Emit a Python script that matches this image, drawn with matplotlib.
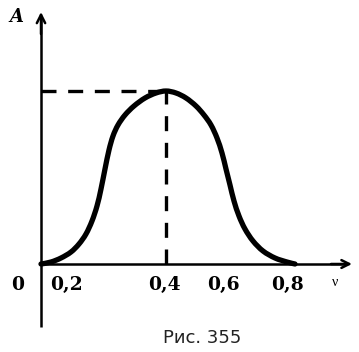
import matplotlib
matplotlib.use("Agg")
import matplotlib.pyplot as plt
from matplotlib.path import Path
from matplotlib.patches import PathPatch

# ---------------- Data (schematic units) ----------------
curve_x = [0, 10, 20, 30, 38, 45, 51, 56, 60, 64, 68, 72, 77, 84, 93, 104, 115, 125,
           135, 145, 155, 163, 170, 176, 181, 185, 189, 193, 198, 204, 212, 222, 234, 246, 254]
curve_y = [0, 2, 6, 12, 20, 30, 43, 58, 75, 95, 114, 128, 139, 149, 158, 166, 171, 173,
           171, 166, 158, 149, 139, 126, 111, 95, 79, 63, 48, 35, 23, 13, 6, 2, 0]

peak_x = 125
peak_y = 173

tick_labels = ["0,2", "0,4", "0,6", "0,8"]
tick_pos = [25, 123, 182, 246]


def smooth_path(xs, ys):
    """Catmull-Rom through the read points, drawn as cubic Bezier segments"""
    pts = list(zip(xs, ys))
    verts = [pts[0]]
    codes = [Path.MOVETO]
    for i in range(len(pts) - 1):
        p0 = pts[i - 1] if i > 0 else pts[i]
        p1 = pts[i]
        p2 = pts[i + 1]
        p3 = pts[i + 2] if i + 2 < len(pts) else pts[i + 1]
        c1 = (p1[0] + (p2[0] - p0[0]) / 6, p1[1] + (p2[1] - p0[1]) / 6)
        c2 = (p2[0] - (p3[0] - p1[0]) / 6, p2[1] - (p3[1] - p1[1]) / 6)
        verts += [c1, c2, p2]
        codes += [Path.CURVE4] * 3
    return Path(verts, codes)


# ---------------- Figure ----------------
fig = plt.figure(figsize=(3.59, 3.52), dpi=100)
ax = fig.add_axes([0, 0, 1, 1])
ax.set_xlim(-41, 318)
ax.set_ylim(-88, 264)
ax.axis("off")

# axes with open arrow heads
ax.plot([0, 0], [-63, 245], color="black", lw=1.8, solid_capstyle="butt")
ax.plot([0, 305], [0, 0], color="black", lw=1.8, solid_capstyle="butt")
ax.annotate("", xy=(0, 252), xytext=(0, 230),
            arrowprops=dict(arrowstyle="->", lw=1.8, color="black",
                            mutation_scale=15, shrinkA=0, shrinkB=0))
ax.annotate("", xy=(311, 0), xytext=(290, 0),
            arrowprops=dict(arrowstyle="->", lw=1.8, color="black",
                            mutation_scale=14, shrinkA=0, shrinkB=0))

# dashed guides to the maximum
ax.plot([0, peak_x], [peak_y, peak_y], color="black", lw=2.4,
        dashes=(4.5, 3.5), dash_capstyle="butt")
ax.plot([peak_x, peak_x], [0, peak_y], color="black", lw=2.4,
        dashes=(4.5, 3.5), dash_capstyle="butt")

# the curve
ax.add_patch(PathPatch(smooth_path(curve_x, curve_y), facecolor="none",
                       edgecolor="black", lw=3.8, capstyle="round",
                       joinstyle="round"))

# labels
serif = "DejaVu Serif"
for p, lab in zip(tick_pos, tick_labels):
    ax.text(p, -20.5, lab, ha="center", va="center", fontsize=13.5,
            fontweight="bold", family=serif)
ax.text(-23.5, -20.5, "0", ha="center", va="center", fontsize=13.5,
        fontweight="bold", family=serif)
ax.text(294, -19, "ν", ha="center", va="center", fontsize=10,
        family="Liberation Serif")
ax.text(-25, 247, "A", ha="center", va="center", fontsize=13,
        fontweight="bold", fontstyle="italic", family=serif)
ax.text(161, -74, "Рис. 355", ha="center", va="center", fontsize=13,
        family="DejaVu Sans", color="#222222")

fig.savefig("out.png", dpi=100)
